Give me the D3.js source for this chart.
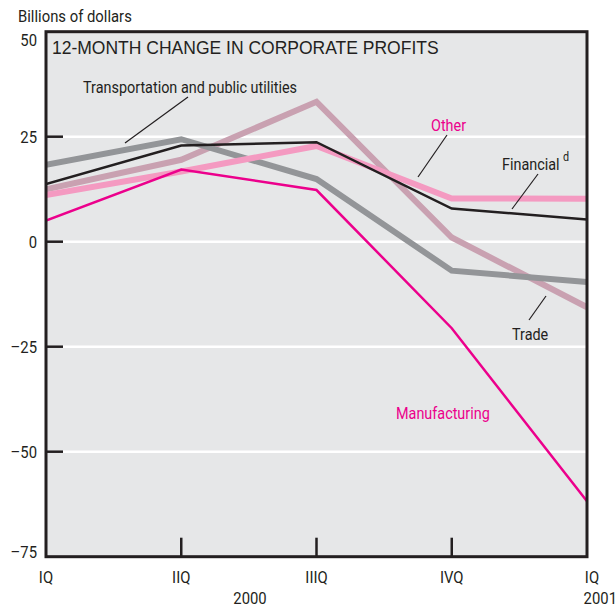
<!DOCTYPE html>
<html>
<head>
<meta charset="utf-8">
<script src="https://cdn.jsdelivr.net/npm/d3@7"></script>
<style>
  body { margin: 0; background: #fff; }
  text { font-family: "Liberation Sans Narrow", "Roboto", sans-serif; }
</style>
</head>
<body>
<div id="chart"></div>
<script>
// quarters, IQ 2000 .. IQ 2001
var quarters = ["IQ", "IIQ", "IIIQ", "IVQ", "IQ "];
var yTicks = [50, 25, 0, -25, -50, -75];

// billions of dollars
var transportation = [18.3, 24.4, 14.9, -6.9, -9.6];
var trade = [12.5, 19.5, 33.3, 1.0, -15.6];
var other = [11.1, 16.7, 22.8, 10.3, 10.2];
var financial = [13.7, 22.9, 23.7, 7.9, 5.3];
var manufacturing = [5.0, 17.2, 12.3, -20.6, -61.8];

var width = 616, height = 608;
var plotLeft = 46, plotRight = 587, plotTop = 31.7, plotBottom = 556.7;

var svg = d3.select("#chart").append("svg")
  .attr("width", width)
  .attr("height", height);

var x = d3.scalePoint().domain(quarters).range([plotLeft, plotRight]);
var y = d3.scaleLinear().domain([-75, 50]).range([plotBottom, plotTop]);

// condensed look: squeeze text horizontally
function label(tx, ty, str, anchor, size, color){
  return svg.append("text")
    .attr("transform", "translate(" + tx + "," + ty + ") scale(0.9,1)")
    .attr("text-anchor", anchor || "start")
    .style("font-size", (size || 16.5) + "px")
    .attr("fill", color || "#231f20")
    .text(str);
}

// background
svg.append("rect")
  .attr("x", plotLeft).attr("y", plotTop)
  .attr("width", plotRight - plotLeft).attr("height", plotBottom - plotTop)
  .attr("fill", "#e6e7e8");

// white grid lines
svg.selectAll("line.grid").data([25, 0, -25, -50]).enter().append("line")
  .attr("class", "grid")
  .attr("x1", plotLeft + 17).attr("x2", plotRight)
  .attr("y1", function(d){ return y(d); })
  .attr("y2", function(d){ return y(d); })
  .attr("stroke", "#fff")
  .attr("stroke-width", 2.5);

// ticks on left side
svg.selectAll("line.ytick").data([25, 0, -25, -50]).enter().append("line")
  .attr("class", "ytick")
  .attr("x1", plotLeft).attr("x2", plotLeft + 17)
  .attr("y1", function(d){ return y(d); })
  .attr("y2", function(d){ return y(d); })
  .attr("stroke", "#231f20")
  .attr("stroke-width", 2.5);

// ticks on bottom
svg.selectAll("line.xtick").data(quarters.slice(1, 4)).enter().append("line")
  .attr("class", "xtick")
  .attr("x1", function(d){ return x(d); })
  .attr("x2", function(d){ return x(d); })
  .attr("y1", plotBottom).attr("y2", plotBottom - 19)
  .attr("stroke", "#231f20")
  .attr("stroke-width", 2.5);

var line = d3.line()
  .x(function(d, i){ return x(quarters[i]); })
  .y(function(d){ return y(d); });

var series = [
  { values: trade, color: "#c9a1b1", w: 6 },
  { values: transportation, color: "#939598", w: 6 },
  { values: other, color: "#f49ac1", w: 6 },
  { values: financial, color: "#231f20", w: 2.5 },
  { values: manufacturing, color: "#ec008c", w: 2.5 }
];

svg.append("clipPath").attr("id", "clip")
  .append("rect")
  .attr("x", plotLeft).attr("y", plotTop)
  .attr("width", plotRight - plotLeft).attr("height", plotBottom - plotTop);

svg.append("g").attr("clip-path", "url(#clip)")
  .selectAll("path").data(series).enter().append("path")
  .attr("d", function(d){ return line(d.values); })
  .attr("fill", "none")
  .attr("stroke", function(d){ return d.color; })
  .attr("stroke-width", function(d){ return d.w; })
  .attr("stroke-linejoin", "miter");

// frame
svg.append("rect")
  .attr("x", plotLeft).attr("y", plotTop)
  .attr("width", plotRight - plotLeft).attr("height", plotBottom - plotTop)
  .attr("fill", "none")
  .attr("stroke", "#231f20")
  .attr("stroke-width", 3);

// title
svg.append("text")
  .attr("x", 52).attr("y", 54)
  .style("font-family", "'Liberation Sans', Arial, sans-serif")
  .style("font-size", "17.5px")
  .attr("fill", "#231f20")
  .text("12-MONTH CHANGE IN CORPORATE PROFITS");

// y labels (end labels pulled inside the frame, as in the print)
yTicks.forEach(function(d){
  var ty = y(d) + 6;
  if (d == 50) ty += 8;
  if (d == -75) ty -= 5;
  label(37, ty, d < 0 ? "\u2013" + (-d) : String(d), "end");
});

label(18, 22, "Billions of dollars");

// x labels
quarters.forEach(function(d, i){
  label(i == 4 ? 592 : x(d), 583, d.trim(), "middle");
});
label(250, 604, "2000", "middle");
label(617, 604, "2001", "end");

// series labels and leader lines
var labels = [
  { text: "Transportation and public utilities", x: 83, y: 93, color: "#231f20", lx: [125, 188], ly: [143, 97] },
  { text: "Other", x: 431, y: 131, color: "#ec008c", lx: [418, 447], ly: [177, 135] },
  { text: "Financial", x: 502, y: 170, color: "#231f20", lx: [512, 538], ly: [209, 174] },
  { text: "Trade", x: 512, y: 340, color: "#231f20", lx: [529, 546], ly: [320, 296] },
  { text: "Manufacturing", x: 396, y: 419, color: "#ec008c" }
];

labels.forEach(function(l){
  label(l.x, l.y, l.text, "start", 16, l.color);
  if (l.lx)
    svg.append("line")
      .attr("x1", l.lx[0]).attr("y1", l.ly[0])
      .attr("x2", l.lx[1]).attr("y2", l.ly[1])
      .attr("stroke", "#231f20")
      .attr("stroke-width", 1.2);
});

label(563, 161, "d", "start", 12);
</script>
</body>
</html>
